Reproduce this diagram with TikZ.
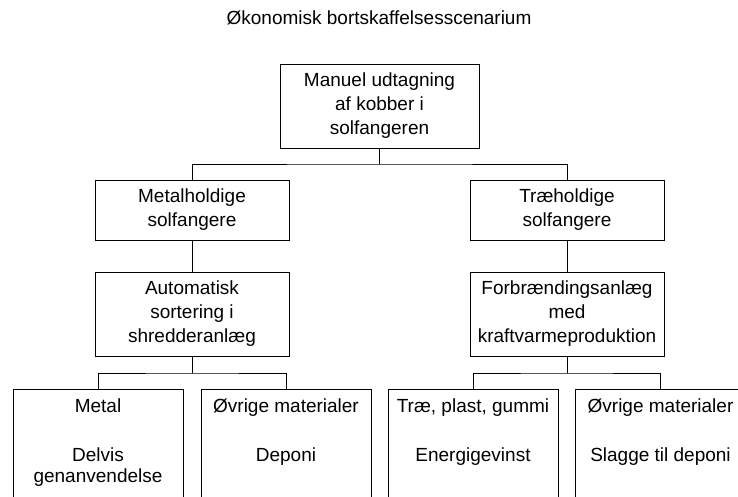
\documentclass[tikz,border=0pt]{standalone}
\usepackage{fontspec}
\setmainfont{Liberation Sans}
\begin{document}
\begin{tikzpicture}[x=1pt,y=-1pt,
  txt/.style={inner sep=0pt, align=center, font=\fontsize{19}{24}\selectfont},
  leaftxt/.style={txt, anchor=north, font=\fontsize{19}{21}\selectfont},
  box/.style={txt, draw=black, line width=1pt},
  midbox/.style={box, minimum width=194pt},
  leafbox/.style={box, minimum width=170pt, minimum height=107.5pt, anchor=north},
  conn/.style={line width=1pt}]
\useasboundingbox (0,0) rectangle (738,496);
\clip (0,0) rectangle (738,496);
\fill[white] (0,0) rectangle (738,496);
\node[txt] (title) at (379,18) {Økonomisk bortskaffelsesscenarium};
\node[box, minimum width=199pt, minimum height=84pt] (top) at (379.5,106) {Manuel udtagning\\af kobber i\\solfangeren};
\node[midbox, minimum height=60pt] (b1) at (192,210) {Metalholdige\\solfangere};
\node[midbox, minimum height=60pt] (b2) at (567,210) {Træholdige\\solfangere};
\node[midbox, minimum height=84pt] (c1) at (192,314) {Automatisk\\sortering i\\shredderanlæg};
\node[midbox, minimum height=84pt] (c2) at (567,314) {Forbrændingsanlæg\\med\\kraftvarmeproduktion};
\node[leafbox] (d1) at (98,389) {};
\node[leafbox] (d2) at (286,389) {};
\node[leafbox] (d3) at (473,389) {};
\node[leafbox] (d4) at (660.5,389) {};
\node[leaftxt] (d1t) at (98,399) {Metal\\[28pt]Delvis\\genanvendelse};
\node[leaftxt] (d2t) at (286,399) {Øvrige materialer\\[28pt]Deponi};
\node[leaftxt] (d3t) at (473,399) {Træ, plast, gummi\\[28pt]Energigevinst};
\node[leaftxt] (d4t) at (660.5,399) {Øvrige materialer\\[28pt]Slagge til deponi};
\coordinate (j1) at (379.5,164);
\coordinate (j2) at (192,373);
\coordinate (j3) at (567,373);
\draw[conn] (top.south) -- (j1);
\draw[conn] (b1.north) |- (j1) -| (b2.north);
\draw[conn] (b1.south) -- (c1.north);
\draw[conn] (b2.south) -- (c2.north);
\draw[conn] (c1.south) -- (j2);
\draw[conn] (d1.north) |- (j2) -| (d2.north);
\draw[conn] (c2.south) -- (j3);
\draw[conn] (d3.north) |- (j3) -| (d4.north);
\end{tikzpicture}
\end{document}
